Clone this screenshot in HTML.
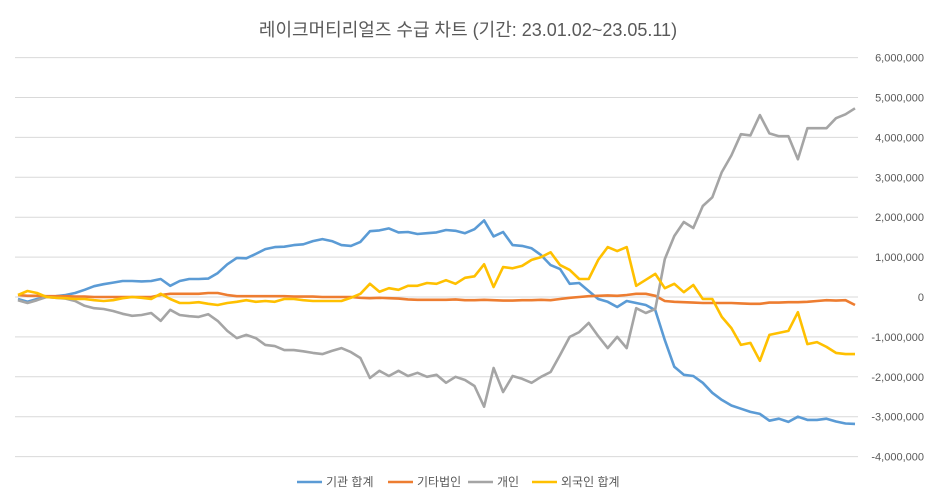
<!DOCTYPE html>
<html><head><meta charset="utf-8"><style>
body{margin:0;background:#fff;}
svg{display:block;font-family:"Liberation Sans","Noto Sans CJK KR",sans-serif;}
</style></head><body>
<svg id="chart" width="936" height="504">
<rect width="936" height="504" fill="#fff"/>
<text x="468" y="36" text-anchor="middle" font-size="18" fill="#595959">레이크머티리얼즈 수급 차트 (기간: 23.01.02~23.05.11)</text>
<g id="grid"></g><g id="series"></g><g id="legend"></g>
</svg>
<script>
const yTicks=[6,5,4,3,2,1,0,-1,-2,-3,-4];
const yTickLabels=["6,000,000","5,000,000","4,000,000","3,000,000","2,000,000","1,000,000","0","-1,000,000","-2,000,000","-3,000,000","-4,000,000"];
const seriesNames=["기관 합계","기타법인","개인","외국인 합계"];
const inst=[-0.05,-0.12,-0.05,0,0.02,0.05,0.1,0.18,0.27,0.32,0.36,0.4,0.4,0.39,0.4,0.45,0.28,0.4,0.45,0.45,0.46,0.6,0.82,0.98,0.97,1.08,1.2,1.25,1.26,1.3,1.32,1.4,1.45,1.4,1.3,1.28,1.38,1.65,1.67,1.72,1.62,1.63,1.58,1.6,1.62,1.68,1.66,1.6,1.7,1.92,1.52,1.63,1.3,1.28,1.22,1.05,0.8,0.7,0.33,0.35,0.15,-0.05,-0.12,-0.25,-0.1,-0.15,-0.2,-0.33,-1.08,-1.75,-1.95,-1.98,-2.15,-2.4,-2.58,-2.72,-2.8,-2.88,-2.93,-3.1,-3.05,-3.13,-3.0,-3.08,-3.08,-3.05,-3.12,-3.17,-3.18];
const corp=[0.05,0.03,0.03,0.02,0.02,0.02,0.01,0.01,0,0,0,0,0,0,0,0.05,0.08,0.08,0.08,0.08,0.1,0.1,0.05,0.02,0.02,0.02,0.02,0.02,0.02,0.01,0.01,0.01,0,0,0,0,-0.02,-0.03,-0.02,-0.03,-0.04,-0.06,-0.07,-0.07,-0.07,-0.07,-0.06,-0.08,-0.08,-0.07,-0.08,-0.09,-0.09,-0.08,-0.08,-0.07,-0.08,-0.05,-0.02,0,0.02,0.03,0.04,0.03,0.05,0.08,0.08,0.03,-0.1,-0.12,-0.13,-0.14,-0.15,-0.15,-0.15,-0.15,-0.16,-0.17,-0.17,-0.14,-0.14,-0.13,-0.13,-0.12,-0.1,-0.08,-0.09,-0.08,-0.2];
const indiv=[-0.08,-0.15,-0.08,0,-0.02,-0.04,-0.1,-0.22,-0.28,-0.3,-0.35,-0.42,-0.47,-0.45,-0.4,-0.6,-0.32,-0.45,-0.48,-0.5,-0.43,-0.6,-0.85,-1.03,-0.95,-1.03,-1.2,-1.23,-1.33,-1.33,-1.36,-1.4,-1.43,-1.35,-1.28,-1.38,-1.53,-2.03,-1.85,-1.98,-1.85,-1.98,-1.9,-2.0,-1.95,-2.15,-2.0,-2.08,-2.23,-2.75,-1.78,-2.38,-1.98,-2.05,-2.15,-2.0,-1.88,-1.45,-1.0,-0.88,-0.65,-0.98,-1.28,-1.0,-1.28,-0.28,-0.4,-0.3,0.95,1.53,1.88,1.73,2.28,2.5,3.13,3.55,4.08,4.05,4.56,4.1,4.03,4.03,3.45,4.23,4.23,4.23,4.48,4.58,4.73];
const foreign=[0.05,0.15,0.1,0,-0.02,-0.03,-0.05,-0.05,-0.08,-0.1,-0.08,-0.03,0,-0.02,-0.05,0.08,-0.05,-0.15,-0.15,-0.13,-0.17,-0.2,-0.15,-0.12,-0.08,-0.12,-0.1,-0.12,-0.05,-0.05,-0.08,-0.1,-0.1,-0.1,-0.1,-0.02,0.08,0.33,0.13,0.22,0.18,0.28,0.28,0.35,0.33,0.42,0.33,0.48,0.52,0.82,0.25,0.75,0.72,0.78,0.93,1.0,1.12,0.8,0.68,0.45,0.45,0.93,1.25,1.15,1.25,0.28,0.43,0.58,0.22,0.33,0.12,0.3,-0.05,-0.05,-0.5,-0.78,-1.2,-1.15,-1.6,-0.95,-0.9,-0.85,-0.38,-1.18,-1.13,-1.25,-1.4,-1.43,-1.43];
const colors=["#5b9bd5","#ed7d31","#a5a5a5","#ffc000"];
const NS="http://www.w3.org/2000/svg";
const X0=18,X1=855,Y0=297,PX=39.9;
function xs(i,n){return X0+(X1-X0)*i/(n-1);}
function ys(v){return Y0-v*PX;}
function mk(t,a,p){const e=document.createElementNS(NS,t);for(const k in a)e.setAttribute(k,a[k]);p.appendChild(e);return e;}
const grid=document.getElementById('grid');
yTicks.forEach((v,i)=>{
 const l=mk('line',{x1:15,x2:858,y1:ys(v),y2:ys(v),stroke:"#d9d9d9","stroke-width":1},grid);
 
 
 const t=mk('text',{x:924,y:ys(v)+4,"text-anchor":"end","font-size":11,fill:"#595959"},grid);
 t.textContent=yTickLabels[i];
 
 
});
const sg=document.getElementById('series');
[inst,corp,indiv,foreign].forEach((d,s)=>{
 const pts=d.map((v,i)=>xs(i,d.length).toFixed(1)+","+ys(v).toFixed(1)).join(" ");
 const p=mk('polyline',{points:pts,fill:"none",stroke:colors[s],"stroke-width":2.6,"stroke-linejoin":"round"},sg);
 
 
});
const lg=document.getElementById('legend');
const lx=[297,388,468,532];
seriesNames.forEach((n,s)=>{
 const g=mk('g',{},lg);
 
 
 mk('line',{x1:lx[s],x2:lx[s]+25,y1:482,y2:482,stroke:colors[s],"stroke-width":2.6},g);
 const t=mk('text',{x:lx[s]+29,y:486,"font-size":12,fill:"#595959"},g);
 t.textContent=n;
});
</script>
</body></html>
